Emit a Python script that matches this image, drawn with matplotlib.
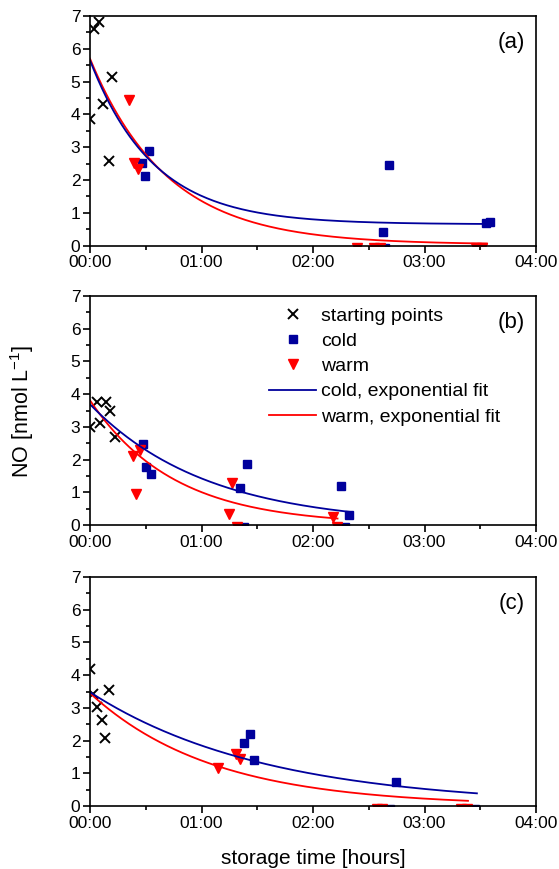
import numpy as np
import matplotlib
matplotlib.use('Agg')
import matplotlib.pyplot as plt
from matplotlib.ticker import MultipleLocator, FuncFormatter

plt.rcParams['font.family'] = ['Liberation Sans', 'DejaVu Sans']
plt.rcParams['mathtext.default'] = 'regular'

# storage time in hours, NO in nmol/L
a_start_t = [0.0, 0.036, 0.08, 0.12, 0.168, 0.195]
a_start_v = [3.86, 6.6, 6.81, 4.32, 2.59, 5.15]
a_cold_t = [0.466, 0.496, 0.532, 2.626, 2.65, 2.68, 3.554, 3.584]
a_cold_v = [2.52, 2.11, 2.89, 0.41, -0.08, 2.45, 0.69, 0.71]
a_warm_t = [0.353, 0.398, 0.434, 2.395, 2.55, 2.60, 3.46, 3.52]
a_warm_v = [4.44, 2.52, 2.34, -0.08, -0.08, -0.08, -0.08, -0.08]

b_start_t = [0.0, 0.06, 0.09, 0.14, 0.18, 0.224]
b_start_v = [3.0, 3.76, 3.12, 3.77, 3.47, 2.68]
b_cold_t = [0.478, 0.502, 0.547, 1.347, 1.377, 1.407, 2.25, 2.29, 2.32]
b_cold_v = [2.47, 1.76, 1.55, 1.12, -0.05, 1.87, 1.19, -0.05, 0.30]
b_warm_t = [0.383, 0.413, 0.448, 1.247, 1.27, 1.317, 2.177, 2.216]
b_warm_v = [2.10, 0.95, 2.29, 0.34, 1.29, -0.05, 0.25, -0.05]

c_start_t = [0.0, 0.03, 0.06, 0.105, 0.135, 0.17]
c_start_v = [4.18, 3.43, 3.03, 2.64, 2.09, 3.54]
c_cold_t = [1.384, 1.438, 1.474, 2.695, 2.74, 3.45]
c_cold_v = [1.94, 2.195, 1.40, -0.08, 0.73, -0.08]
c_warm_t = [1.145, 1.306, 1.345, 2.57, 2.62, 3.33, 3.38]
c_warm_v = [1.15, 1.60, 1.45, -0.08, -0.08, -0.08, -0.08]

# exponential fits: y0, A, tau [h], t_end [h]
a_cold_fit = (0.65, 5.0, 0.57, 3.57)
a_warm_fit = (0.03, 5.67, 0.69, 3.56)
b_cold_fit = (0.0, 3.69, 1.05, 2.33)
b_warm_fit = (0.0, 3.81, 0.75, 2.22)
c_cold_fit = (0.0, 3.48, 1.58, 3.47)
c_warm_fit = (0.0, 3.45, 1.10, 3.39)

panels = [
    ('(a)', a_start_t, a_start_v, a_cold_t, a_cold_v, a_warm_t, a_warm_v, a_cold_fit, a_warm_fit),
    ('(b)', b_start_t, b_start_v, b_cold_t, b_cold_v, b_warm_t, b_warm_v, b_cold_fit, b_warm_fit),
    ('(c)', c_start_t, c_start_v, c_cold_t, c_cold_v, c_warm_t, c_warm_v, c_cold_fit, c_warm_fit),
]

blue = '#00009C'
red = '#FF0000'

W, H = 559, 869
fig = plt.figure(figsize=(W / 100, H / 100), dpi=100)

ax_boxes = [(16, 245.6), (296, 525), (577, 806)]
left, right = 90, 536


def hhmm(x, pos):
    return '%02d:00' % int(round(x))


axes = []
for (top, bot), p in zip(ax_boxes, panels):
    ax = fig.add_axes([left / W, 1 - bot / H, (right - left) / W, (bot - top) / H])
    axes.append(ax)
    label, st, sv, ct, cv, wt, wv, cfit, wfit = p

    hs, = ax.plot(st, sv, 'x', color='black', markersize=7.5, markeredgewidth=1.4,
                  linestyle='none', label='starting points')
    hc, = ax.plot(ct, cv, 's', color=blue, markersize=5.4, linestyle='none', label='cold')
    hw, = ax.plot(wt, wv, 'v', color=red, markersize=7, linestyle='none', label='warm')

    y0, A, tau, tend = wfit
    tt = np.linspace(0, tend, 300)
    hwf, = ax.plot(tt, y0 + A * np.exp(-tt / tau), color=red, lw=1.3,
                   label='warm, exponential fit')
    y0, A, tau, tend = cfit
    tt = np.linspace(0, tend, 300)
    hcf, = ax.plot(tt, y0 + A * np.exp(-tt / tau), color=blue, lw=1.3,
                   label='cold, exponential fit')

    ax.set_xlim(0, 4)
    ax.set_ylim(0, 7)
    ax.xaxis.set_major_locator(MultipleLocator(1))
    ax.xaxis.set_minor_locator(MultipleLocator(0.5))
    ax.xaxis.set_major_formatter(FuncFormatter(hhmm))
    ax.yaxis.set_major_locator(MultipleLocator(1))
    ax.yaxis.set_minor_locator(MultipleLocator(0.5))
    ax.tick_params(which='both', direction='out', top=False, right=False,
                   labelsize=12.5, width=1.2)
    ax.tick_params(which='major', length=5, pad=2)
    ax.tick_params(which='minor', length=3)
    for s in ax.spines.values():
        s.set_linewidth(1.2)
    ax.text(0.975, 0.885, label, transform=ax.transAxes, ha='right', va='center', fontsize=16)

    if label == '(b)':
        ax.legend([hs, hc, hw, hcf, hwf],
                  ['starting points', 'cold', 'warm',
                   'cold, exponential fit', 'warm, exponential fit'],
                  loc='upper left', bbox_to_anchor=(0.385, 0.985), frameon=False,
                  fontsize=14, handlelength=2.37, handletextpad=0.26,
                  labelspacing=0.39, borderaxespad=0)

fig.text(313 / W, 1 - 858 / H, 'storage time [hours]', ha='center', va='center', fontsize=15)
fig.text(22 / W, 1 - 411 / H, 'NO [nmol L$^{-1}$]', ha='center', va='center',
         rotation=90, fontsize=15.5)

fig.savefig('out.png', dpi=100)
